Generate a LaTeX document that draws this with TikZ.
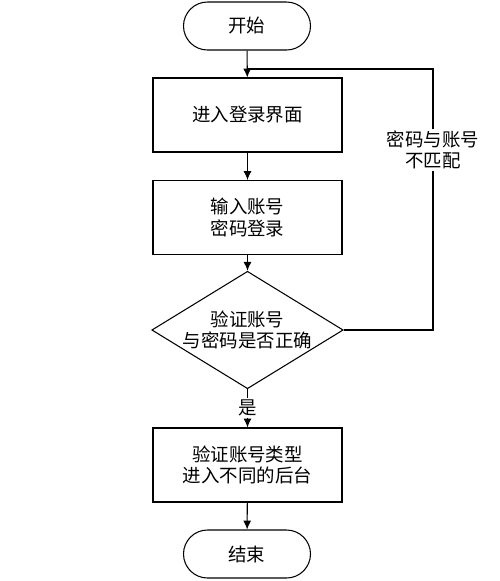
\documentclass[tikz,border=0pt]{standalone}
\usepackage{fontspec}
\setmainfont{Noto Sans CJK SC}
\usetikzlibrary{shapes.geometric,arrows.meta}

\tikzset{
  term/.style={draw, line width=0.6pt, rounded corners=0.48cm, minimum width=2.54cm, minimum height=0.96cm},
  proc/.style={draw, line width=0.6pt, minimum width=3.78cm, minimum height=1.48cm, align=center},
  decide/.style={draw, line width=0.6pt, diamond, aspect=1.63, minimum width=3.78cm, minimum height=2.32cm, inner sep=0pt, align=center},
  flow/.style={line width=0.6pt, -{Latex[length=5pt,width=4.5pt]}},
}

\begin{document}
\begin{tikzpicture}[font=\fontsize{10.5}{12}\selectfont]
      \useasboundingbox (0,0) rectangle (10,-11.62);
      % Nodes
      \node[term] (S) at (4.94,-0.52) {开始};
      \node[proc] (B1) at (4.95,-2.30) {进入登录界面};
      \node[proc] (B2) at (4.95,-4.35) {输入账号\\密码登录};
      \node[decide] (D1) at (4.95,-6.60) {验证账号\\与密码是否正确};
      \node[proc] (B3) at (4.95,-9.30) {验证账号类型\\进入不同的后台};
      \node[term] (E) at (4.94,-11.08) {结束};
      \coordinate (J) at (4.95,-1.38);
      \coordinate (K) at (8.66,-1.38);
      % Edges
      \draw[flow] (S) -- (B1);
      \draw[flow] (B1) -- (B2);
      \draw[flow] (B2) -- (D1);
      \draw[flow] (D1) -- node[fill=white, inner sep=1pt] {是} (B3);
      \draw[flow] (B3) -- (E);
      \draw[line width=0.6pt] (D1.east) -| (K) -- (J);
      \node[fill=white, inner sep=1pt, align=center] (L) at (8.66,-3.00) {密码与账号\\不匹配};
\end{tikzpicture}
\end{document}
